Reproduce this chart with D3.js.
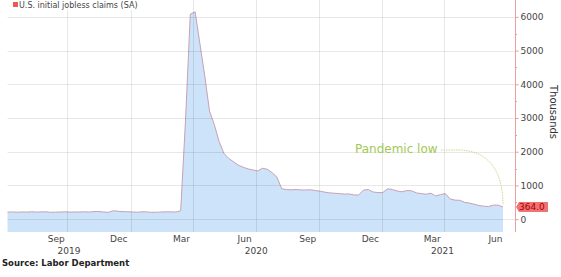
<!DOCTYPE html>
<html>
<head>
<meta charset="utf-8">
<script src="https://cdn.jsdelivr.net/npm/d3@7"></script>
<style>
  body { margin: 0; background: #fff; }
  svg { display: block; font-family: "DejaVu Sans", Verdana, sans-serif; }
</style>
</head>
<body>
<div id="graphArea"></div>
<script>
// weekly initial jobless claims, SA, thousands (week ending Saturdays)
var firstWeek = "2019-07-06"
var lastWeek = "2021-06-26"
var claims2019 = [209,216,206,215,209,220,210,216,217,204,208,213,219,210,214,213,218,211,227,227,213,203,252,234,222,222]
var claims2020 = [214,207,220,215,203,206,214,217,217,211,251,2920,6080,6149,5200,4250,3200,2800,2300,1950,1800,1700,1600,1540,1490,1460,1430,1510,1480,1380,1250,900,880,870,880,866,866,873,849,830,800,780,770,760,745,750,720,716,862,880,806,790]
var claims2021 = [790,900,880,836,812,848,841,780,760,740,770,690,728,760,600,566,560,500,478,444,405,385,375,418,415,364]

var yTicks = [0,1000,2000,3000,4000,5000,6000]
var monthTicks = [["2019-09-15","Sep"],["2019-12-15","Dec"],["2020-03-15","Mar"],["2020-06-15","Jun"],["2020-09-15","Sep"],["2020-12-15","Dec"],["2021-03-15","Mar"],["2021-06-15","Jun"]]
var gridDates = ["2019-10-01","2020-01-01","2020-04-01","2020-07-01","2020-10-01","2021-01-01","2021-04-01"]
var yearLabels = ["2019","2020","2021"]

var parse = d3.timeParse("%Y-%m-%d")
var W = 561, H = 277
var plotL = 7.5, plotR = 503, plotT = 0, plotB = 232, axisX = 515

var svg = d3.select("#graphArea").append("svg")
  .attr("width", W).attr("height", H)

var start = parse(firstWeek), end = parse(lastWeek)
var dates = d3.timeDay.range(start, d3.timeDay.offset(end, 1), 7)
var values = claims2019.concat(claims2020, claims2021)
var data = dates.map(function(d, i) { return {date: d, value: values[i]} })

var x = d3.scaleTime().domain([start, end]).range([plotL, plotR])
var y = d3.scaleLinear().domain([-380, 6500]).range([plotB, plotT])

// area
var area = d3.area()
  .x(function(d) { return x(d.date) })
  .y0(plotB)
  .y1(function(d) { return y(d.value) })
var line = d3.line()
  .x(function(d) { return x(d.date) })
  .y(function(d) { return y(d.value) })

svg.append("path").datum(data)
  .attr("d", area)
  .attr("fill", "#cde3f9")

svg.append("path").datum(data)
  .attr("d", line)
  .attr("fill", "none")
  .attr("stroke", "#c9a0b6")
  .attr("stroke-width", 1)

// grid
svg.selectAll(".hgrid").data(yTicks).enter().append("line")
  .attr("class", "hgrid")
  .attr("x1", plotL).attr("x2", axisX)
  .attr("y1", function(d) { return Math.round(y(d)) + 0.5 })
  .attr("y2", function(d) { return Math.round(y(d)) + 0.5 })
  .attr("stroke", "rgba(0,0,0,0.09)")

svg.selectAll(".vgrid").data(gridDates).enter().append("line")
  .attr("class", "vgrid")
  .attr("x1", function(d) { return Math.round(x(parse(d))) + 0.5 })
  .attr("x2", function(d) { return Math.round(x(parse(d))) + 0.5 })
  .attr("y1", plotT).attr("y2", plotB)
  .attr("stroke", "rgba(0,0,0,0.09)")

// right axis
var yAxis = d3.axisRight(y).tickValues(yTicks).tickSize(3).tickPadding(2).tickFormat(d3.format("d"))
var axisG = svg.append("g")
  .attr("transform", "translate(" + (axisX + 0.5) + ",0)")
  .call(yAxis)
axisG.select(".domain").remove()
axisG.selectAll(".tick line").attr("stroke", "#e89a9a")
axisG.selectAll(".tick text")
  .attr("fill", "#444")
  .style("font-size", "9px")
  .style("font-family", "DejaVu Sans, Verdana, sans-serif")

svg.append("line")
  .attr("x1", axisX + 0.5).attr("x2", axisX + 0.5)
  .attr("y1", 0).attr("y2", plotB)
  .attr("stroke", "#eba0a0")

// minor ticks
svg.selectAll(".minor").data(d3.range(500, 6500, 1000)).enter().append("line")
  .attr("x1", axisX).attr("x2", axisX + 2)
  .attr("y1", function(d) { return Math.round(y(d)) + 0.5 })
  .attr("y2", function(d) { return Math.round(y(d)) + 0.5 })
  .attr("stroke", "#e89a9a")

svg.append("text")
  .attr("transform", "translate(550,112) rotate(90)")
  .attr("text-anchor", "middle")
  .attr("fill", "#333")
  .style("font-size", "10px")
  .text("Thousands")

// x labels
svg.selectAll(".mlabel").data(monthTicks).enter().append("text")
  .attr("x", function(d) { return x(parse(d[0])) })
  .attr("y", 242)
  .attr("text-anchor", "middle")
  .attr("fill", "#444")
  .style("font-size", "9px")
  .text(function(d) { return d[1] })

svg.selectAll(".ylabel").data(yearLabels).enter().append("text")
  .attr("x", function(d) {
    var a = d3.max([start, parse(d + "-01-01")])
    var b = d3.min([end, parse((+d + 1) + "-01-01")])
    return (x(a) + x(b)) / 2
  })
  .attr("y", 254)
  .attr("text-anchor", "middle")
  .attr("fill", "#444")
  .style("font-size", "9px")
  .text(function(d) { return d })

svg.append("text")
  .attr("x", 2).attr("y", 266)
  .attr("fill", "#222")
  .style("font-size", "8.5px")
  .style("font-weight", "bold")
  .text("Source: Labor Department")

// legend
svg.append("rect")
  .attr("x", 0).attr("y", 0).attr("width", 142).attr("height", 10)
  .attr("fill", "rgba(255,255,255,0.85)")
svg.append("rect")
  .attr("x", 13).attr("y", 2).attr("width", 5).attr("height", 5)
  .attr("fill", "#e85a5a")
svg.append("text")
  .attr("x", 19).attr("y", 7.5)
  .attr("fill", "#444")
  .style("font-size", "8px")
  .text("U.S. initial jobless claims (SA)")

// last value tag
var last = data[data.length - 1]
var ly = y(last.value)
svg.append("path")
  .attr("d", "M" + (axisX + 1) + "," + ly + " L" + (axisX + 4) + "," + (ly - 5) + " L" + 548 + "," + (ly - 5) + " L" + 548 + "," + (ly + 5) + " L" + (axisX + 4) + "," + (ly + 5) + " Z")
  .attr("fill", "#f07272")
svg.append("text")
  .attr("x", axisX + 4).attr("y", ly + 3.5)
  .attr("fill", "#a00")
  .style("font-size", "9px")
  .text(last.value.toFixed(1))

// annotation
var ax = x(last.date), ay = y(last.value)
svg.append("text")
  .attr("x", 355).attr("y", 153)
  .attr("fill", "#a2c955")
  .style("font-size", "12px")
  .text("Pandemic low")
svg.append("path")
  .attr("d", "M441,150 L458,150 C486,150 " + ax + ",168 " + ax + "," + (ay - 2))
  .attr("fill", "none")
  .attr("stroke", "#c5dc8e")
  .attr("stroke-width", 1)
  .attr("stroke-dasharray", "1.5,1")
</script>
</body>
</html>
